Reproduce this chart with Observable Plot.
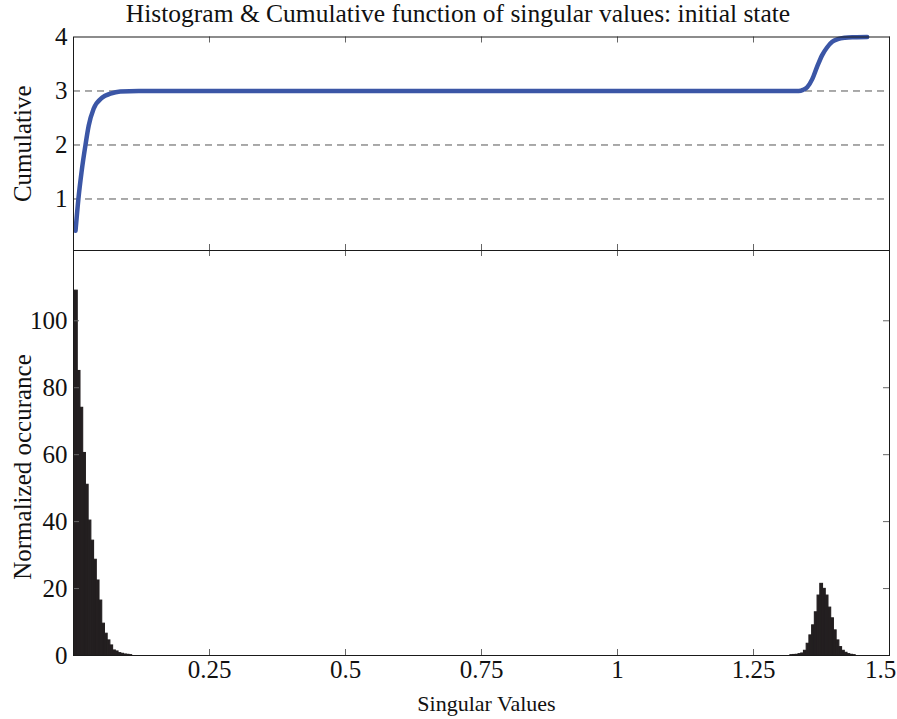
<!DOCTYPE html>
<html><head><meta charset="utf-8">
<script src="https://cdn.jsdelivr.net/npm/d3@7"></script>
<script src="https://cdn.jsdelivr.net/npm/@observablehq/plot@0.6"></script>
<style>
body{margin:0;background:#fff}
#chart{position:relative;width:897px;height:719px;background:#fff;overflow:hidden}
#chart svg{display:block;overflow:visible}
</style></head><body><div id="chart"></div>
<script>
// ---- data ----
const titleText = "Histogram & Cumulative function of singular values: initial state";
const xLabel = "Singular Values";
const topYLabel = "Cumulative";
const bottomYLabel = "Normalized occurance";

const xTicks = [0.25, 0.5, 0.75, 1, 1.25, 1.5];
const xTickLabels = ["0.25", "0.5", "0.75", "1", "1.25", "1.5"];
const topYTicks = [1, 2, 3, 4];
const topGrid = [1, 2, 3];
const bottomYTicks = [0, 20, 40, 60, 80, 100];

const binWidth = 0.005;
const leftStart = -0.0022;
const leftCounts = [88, 109, 85, 74, 60.5, 51, 40.3, 34.3, 28.6, 22.4, 16.4, 9.5, 6.5, 4.5, 3, 1.5, 1.2, 0.7, 0.5, 0.3, 0.2, 0.1];
const rightStart = 1.3178;
const rightCounts = [0.1, 0.15, 0.2, 0.4, 0.6, 1.4, 3.5, 6, 9, 12.9, 17.9, 21.4, 19.9, 17.9, 14.3, 11.1, 7.5, 4.5, 2.5, 1.4, 0.8, 0.4, 0.2, 0.1];

const cumX = [0.0037, 0.009, 0.0148, 0.022, 0.028, 0.037, 0.053, 0.068, 0.086, 0.12, 1.333, 1.341, 1.3487, 1.358, 1.367, 1.376, 1.3855, 1.3947, 1.405, 1.418, 1.435, 1.459];
const cumY = [0.41, 1.0, 1.5, 2.0, 2.36, 2.67, 2.88, 2.95, 2.99, 3.0, 3.0, 3.02, 3.07, 3.22, 3.45, 3.66, 3.81, 3.91, 3.96, 3.985, 3.995, 4.0];

// ---- build tables ----
const bins = [
  ...leftCounts.map((c, i) => ({x1: leftStart + i * binWidth, x2: leftStart + (i + 1) * binWidth, y: c})),
  ...rightCounts.map((c, i) => ({x1: rightStart + i * binWidth, x2: rightStart + (i + 1) * binWidth, y: c}))
];
const cum = cumX.map((x, i) => ({x, y: cumY[i]}));
const xTickTable = xTicks.map((x, i) => ({x, label: xTickLabels[i]}));

const W = 897, ML = 73, MR = 8;
const FONT = "'Liberation Serif', 'Times New Roman', serif";
const frameColor = "#1a1a1a", tickColor = "#666", tickLen = 6, ink = "#111";

// ---- top panel ----
const topH = 250, topMT = 36.5, topFrameH = topH - topMT;
const topPlot = Plot.plot({
  width: W, height: topH,
  marginLeft: ML, marginRight: MR, marginTop: topMT, marginBottom: 0,
  style: {fontFamily: FONT, fontSize: "25px", color: ink, background: "transparent"},
  x: {domain: [0, 1.5], axis: null},
  y: {domain: [0.046, 4], axis: null},
  marks: [
    Plot.ruleY(topGrid, {y: d => d, stroke: "#555", strokeDasharray: "7,5", strokeWidth: 1}),
    Plot.ruleX(xTicks, {x: d => d, insetTop: topFrameH - tickLen, stroke: tickColor}),
    Plot.ruleX(xTicks, {x: d => d, insetBottom: topFrameH - tickLen, stroke: tickColor}),
    Plot.line(cum, {x: "x", y: "y", stroke: "#3b56a6", strokeWidth: 4.5, curve: "monotone-x"}),
    Plot.axisY(topYTicks, {tickSize: 0, tickPadding: 6, label: null, fontSize: 25, tickFormat: d => String(d)}),
    Plot.frame({stroke: frameColor}),
    Plot.text([titleText], {frameAnchor: "top", text: d => d, textAnchor: "middle", lineAnchor: "middle", dy: -23, dx: -23.5, fontSize: 25.5, fill: ink}),
    Plot.text([topYLabel], {frameAnchor: "left", text: d => d, textAnchor: "middle", lineAnchor: "middle", rotate: -90, dx: -51, dy: 0, fontSize: 25, fill: ink})
  ]
});

// ---- bottom panel ----
const botH = 719 - topH, botMB = 64, botFrameH = botH - botMB;
const bottomPlot = Plot.plot({
  width: W, height: botH,
  marginLeft: ML, marginRight: MR, marginTop: 0, marginBottom: botMB,
  style: {fontFamily: FONT, fontSize: "25px", color: ink, background: "transparent"},
  x: {domain: [0, 1.5], axis: null},
  y: {domain: [0, 121], axis: null},
  marks: [
    Plot.rectY(bins, {x1: "x1", x2: "x2", y: "y", fill: "#231f20", stroke: "#231f20", strokeWidth: 1.1, clip: true}),
    Plot.ruleX(xTicks, {x: d => d, insetTop: botFrameH - tickLen, stroke: tickColor}),
    Plot.ruleX(xTicks, {x: d => d, insetBottom: botFrameH - tickLen, stroke: tickColor}),
    Plot.ruleY(bottomYTicks.slice(1), {y: d => d, insetRight: (W - ML - MR) - tickLen, stroke: tickColor}),
    Plot.ruleY(bottomYTicks.slice(1), {y: d => d, insetLeft: (W - ML - MR) - tickLen, stroke: tickColor}),
    Plot.text(xTickTable.slice(0, -1), {x: "x", frameAnchor: "bottom", text: "label", textAnchor: "middle", lineAnchor: "top", dy: 5, fontSize: 25, fill: ink}),
    Plot.text(xTickTable.slice(-1), {x: "x", frameAnchor: "bottom", text: "label", textAnchor: "middle", lineAnchor: "top", dy: 5, dx: -9, fontSize: 25, fill: ink}),
    Plot.axisY(bottomYTicks, {tickSize: 0, tickPadding: 6, label: null, fontSize: 25, tickFormat: d => String(d)}),
    Plot.frame({stroke: frameColor}),
    Plot.text([xLabel], {frameAnchor: "bottom", text: d => d, textAnchor: "middle", lineAnchor: "middle", dy: 48, dx: 5, fontSize: 22, fill: ink}),
    Plot.text([bottomYLabel], {frameAnchor: "left", text: d => d, textAnchor: "middle", lineAnchor: "middle", rotate: -90, dx: -51, dy: 14, fontSize: 25, fill: ink})
  ]
});

const chart = document.getElementById("chart");
chart.appendChild(topPlot);
chart.appendChild(bottomPlot);
</script>
</body></html>
